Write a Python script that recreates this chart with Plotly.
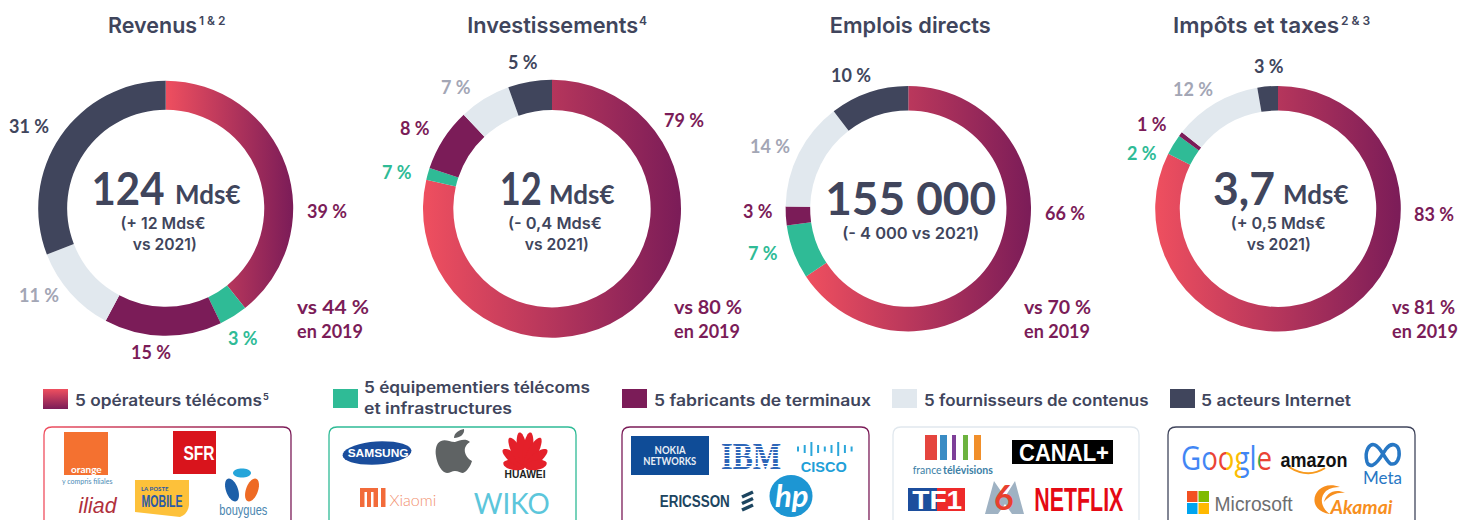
import re, math, json
import plotly.graph_objects as go

W, H = 1471, 520
FONT = "Lato"
UI = "Inter"
SANS = "Liberation Sans"
DARK, PLUM, GREEN, LIGHT, GREY, RED = "#40455C", "#7B1C58", "#2FBB96", "#E1E8EE", "#A3A6B5", "#EF4F5F"

# ---------- data ----------
categories = ["5 opérateurs télécoms", "5 équipementiers télécoms et infrastructures",
              "5 fabricants de terminaux", "5 fournisseurs de contenus", "5 acteurs Internet"]
revenus = [39.3, 3.6, 14.9, 11.3, 30.9]
investissements = [78.6, 1.5, 7.9, 6.5, 5.5]
emplois = [65.7, 7.1, 2.5, 14.3, 10.4]
impots = [82.4, 2.7, 0.6, 11.6, 2.7]
revenus_labels = ["39 %", "3 %", "15 %", "11 %", "31 %"]
investissements_labels = ["79 %", "7 %", "8 %", "7 %", "5 %"]
emplois_labels = ["66 %", "7 %", "3 %", "14 %", "10 %"]
impots_labels = ["83 %", "2 %", "1 %", "12 %", "3 %"]
titles = ["Revenus", "Investissements", "Emplois directs", "Impôts et taxes"]
title_notes = ["1 & 2", "4", "", "2 & 3"]
compare_2019 = ["vs 44 %", "vs 80 %", "vs 70 %", "vs 81 %"]

# ---------- layout (pixels) ----------
geom = [(165.7, 208.3, 127.5, .773), (552, 208.7, 129, .765), (908.3, 208.7, 122.7, .80), (1278, 208.7, 122.8, .80)]
label_pos = [
    [(327, 211), (243, 338), (151, 352), (39, 295), (29, 126)],
    [(684, 120), (397, 172), (415, 128), (456, 87), (523, 62)],
    [(1065, 213), (763, 253), (758, 211), (770, 146), (851, 75)],
    [(1434, 214), (1142, 153), (1152, 124), (1193, 89), (1269, 66)],
]
label_col = [PLUM, GREEN, PLUM, GREY, DARK]
title_x = [152.5, 552.5, 910, 1256]
note_x = [213, 643, 0, 1355]
cmp_x = [297, 674, 1024, 1392]
fills = [RED, GREEN, PLUM, LIGHT, DARK]
# target text widths in px
FIT = {"Revenus": 89, "Investissements": 171, "Emplois directs": 161, "Impôts et taxes": 166,
       "124": 73, "12": 42, "3,7": 62, "155 000": 171, "Google": 91,
       "vs 44 %": 72, "vs 80 %": 68, "vs 70 %": 67, "vs 81 %": 63, "en 2019": 66,
       "(- 4 000 vs 2021)": 137, "(+ 12 Mds€": 85, "vs 2021)": 64, "(- 0,4 Mds€": 94, "(+ 0,5 Mds€": 95,
       "5 opérateurs télécoms": 187, "5 équipementiers télécoms": 226, "et infrastructures": 148,
       "5 fabricants de terminaux": 217, "5 fournisseurs de contenus": 224.5, "5 acteurs Internet": 150,
       "NETFLIX": 89, "SFR": 31, "SAMSUNG": 61, "MOBILE": 41, "iliad": 38, "CANAL+": 90, "TF1": 50, "amazon": 67,
       "Microsoft": 78, "NOKIA": 31, "NETWORKS": 53, "IBM": 60, "CISCO": 46, "ERICSSON": 70, "bouygues": 48,
       "HUAWEI": 41, "france": 29, "télévisions": 50, "Meta": 39, "Akamai": 62, "WIKO": 76, "Xiaomi": 47}

def X(x): return x / W
def Y(y): return 1 - y / H

def pxpath(s):
    out, isx = [], True
    for tok in re.findall(r"[A-Za-z]|-?\d+\.?\d*", s):
        if tok.isalpha():
            out.append(tok); isx = True
        else:
            v = float(tok)
            out.append(f"{X(v):.5f}" if isx else f"{Y(v):.5f}")
            isx = not isx
    return " ".join(out)

shapes, ann = [], []
def T(x, y, text, size, color, anchor="center", family=FONT, weight=700, italic=False):
    ann.append(dict(x=X(x), y=Y(y), xref="paper", yref="paper", text=text, showarrow=False,
                    xanchor=anchor, yanchor="middle", align="left" if anchor == "left" else "center",
                    borderpad=0, borderwidth=0,
                    font=dict(size=size, color=color, family=family, weight=weight,
                              style="italic" if italic else "normal")))
def R(x0, y0, x1, y1, c):
    shapes.append(dict(type="rect", xref="paper", yref="paper", x0=X(x0), x1=X(x1), y0=Y(y0), y1=Y(y1),
                       fillcolor=c, line=dict(width=0)))
def PATH(s, fill=None, stroke=None, w=0):
    shapes.append(dict(type="path", xref="paper", yref="paper", path=pxpath(s),
                       fillcolor=fill if fill else "rgba(0,0,0,0)",
                       line=dict(width=w, color=stroke if stroke else "rgba(0,0,0,0)")))
def ELL(cx, cy, rx, ry, c, rot=0):
    a = math.radians(rot)
    pts = []
    for i in range(36):
        t = 2 * math.pi * i / 36
        x, y = rx * math.cos(t), ry * math.sin(t)
        pts.append((cx + x * math.cos(a) - y * math.sin(a), cy + x * math.sin(a) + y * math.cos(a)))
    PATH("M " + " L ".join(f"{p[0]:.2f} {p[1]:.2f}" for p in pts) + " Z", fill=c)
def RR(x0, y0, x1, y1, r, stroke):
    PATH(f"M {x0+r} {y0} L {x1-r} {y0} Q {x1} {y0} {x1} {y0+r} L {x1} {y1-r} Q {x1} {y1} {x1-r} {y1} "
         f"L {x0+r} {y1} Q {x0} {y1} {x0} {y1-r} L {x0} {y0+r} Q {x0} {y0} {x0+r} {y0} Z", stroke=stroke, w=1.3)

fig = go.Figure()
series = [(revenus, revenus_labels), (investissements, investissements_labels),
          (emplois, emplois_labels), (impots, impots_labels)]
for (vals, labs), (cx, cy, r, hole), title, note, tx, nx, cx2, lp, cmp_ in zip(series, geom, titles, title_notes, title_x, note_x, cmp_x, label_pos, compare_2019):
    fig.add_trace(go.Pie(values=vals, labels=categories, sort=False, direction="clockwise", rotation=0,
                         hole=hole, textinfo="none", hoverinfo="skip", showlegend=False,
                         marker=dict(colors=fills, line=dict(width=0)),
                         domain=dict(x=[X(cx - r), X(cx + r)], y=[Y(cy + r), Y(cy - r)])))
    for lab, (x, y), c in zip(labs, lp, label_col):
        T(x, y, lab, 18, c)
    T(tx, 25, title, 22, DARK, family=UI, weight=600)
    if note:
        T(nx, 20.5, note, 12, DARK, family=UI, weight=600)
    T(cx2, 307, cmp_, 18, PLUM, anchor="left")
    T(cx2, 331, "en 2019", 18, PLUM, anchor="left")

# centre texts
T(128, 187, "124", 46, DARK); T(207, 194, "Mds€", 26, DARK)
T(163, 223, "(+ 12 Mds€", 16, DARK, family=UI, weight=600); T(164, 244, "vs 2021)", 16, DARK, family=UI, weight=600)
T(520, 187, "12", 46, DARK); T(581, 194, "Mds€", 26, DARK)
T(555, 223, "(- 0,4 Mds€", 16, DARK, family=UI, weight=600); T(556, 244, "vs 2021)", 16, DARK, family=UI, weight=600)
T(910, 197, "155 000", 46, DARK); T(910, 233, "(- 4 000 vs 2021)", 16, DARK, family=UI, weight=600)
T(1244, 187, "3,7", 46, DARK); T(1315, 194, "Mds€", 26, DARK)
T(1278, 223, "(+ 0,5 Mds€", 16, DARK, family=UI, weight=600); T(1278, 244, "vs 2021)", 16, DARK, family=UI, weight=600)

# legend
R(43, 389, 68, 409, RED); idx_swatch = len(shapes) - 1
R(333, 389, 358, 408, GREEN); R(622, 389, 647, 408, PLUM); R(892, 389, 917, 408, LIGHT); R(1170, 389, 1195, 408, DARK)
T(74.5, 400, categories[0], 15.5, DARK, "left", family=UI, weight=600)
T(262.5, 396.5, "5", 9, DARK, "left", family=UI, weight=700)
T(364, 387, "5 équipementiers télécoms", 15.5, DARK, "left", family=UI, weight=600)
T(364, 408, "et infrastructures", 15.5, DARK, "left", family=UI, weight=600)
T(654, 400, categories[2], 15.5, DARK, "left", family=UI, weight=600)
T(923.5, 400, categories[3], 15.5, DARK, "left", family=UI, weight=600)
T(1201, 400, categories[4], 15.5, DARK, "left", family=UI, weight=600)

# logo boxes
RR(44, 427, 291, 535, 8, RED); idx_box = len(shapes) - 1
RR(329, 427, 576, 535, 8, GREEN); RR(622, 427, 869, 535, 8, PLUM); RR(893, 427, 1139, 535, 8, LIGHT); RR(1168, 427, 1415, 535, 8, DARK)

# operators
R(64, 432, 108, 475, "#F47130"); T(86, 469, "orange", 10, "#FFFFFF")
T(87, 481, "y compris filiales", 7, "#4A8BB5", weight=400)
R(173, 431, 216, 474, "#D9141C"); T(199, 453, "SFR", 20, "#FFFFFF", family=SANS)
T(98, 505, "iliad", 22, "#B0303C", family=SANS, italic=True, weight=400)
PATH("M 135 480 L 189 480 L 189 505 Q 188 514 180 517 L 135 512 Z", fill="#FDC13A")
T(155, 488, "LA POSTE", 6, "#2B5AA5"); T(162, 501, "MOBILE", 17, "#2B5AA5", family=SANS)
ELL(242, 473, 9, 4.5, "#25A5DA"); ELL(232, 490, 6, 12, "#1D5FA8", -20); ELL(252, 490, 6, 12, "#EE6A24", 20)
T(243, 510, "bouygues", 14, "#4A86B0", family=SANS, weight=400)
# equipment
ELL(377, 453, 34.5, 11.5, "#1A4D9C", -4); T(378, 453, "SAMSUNG", 11, "#FFFFFF", family=SANS)
PATH("M 455 442 C 449 442 446 439 441 441 C 436 443 435 450 436 456 C 437 464 442 473 447 473 C 450 473 452 471 455 471 "
     "C 458 471 461 473 463 473 C 467 472 471 465 472 461 C 466 458 464 452 465 448 C 466 445 468 443 470 442 C 466 438 460 440 455 442 Z", fill="#5F6364")
PATH("M 454 438 C 454 433 459 430 464 429 C 465 434 460 438 454 438 Z", fill="#5F6364")
for ang, ln in [(-80, 22), (-52, 28), (-28, 33), (-9, 35), (9, 35), (28, 33), (52, 28), (80, 22)]:
    a = math.radians(ang)
    ELL(525 + math.sin(a) * ln / 2, 467 - math.cos(a) * ln / 2, 5, ln / 2, "#E4202A", ang)
T(525, 474, "HUAWEI", 10, "#222222", family=SANS)
for x0, y0, x1, y1 in [(360, 488, 378, 492), (360, 488, 364.5, 507), (367, 492, 371, 507), (373.5, 488, 378, 507), (381, 488, 385.5, 507)]:
    R(x0, y0, x1, y1, "#F26B3A")
T(413, 500, "Xiaomi", 15, "#F2916F", weight=300)
T(511, 502, "WIKO", 29, "#5CC6DB", weight=400)
# devices
R(631, 436, 709, 475, "#0F4C97"); T(670, 450, "NOKIA", 10.5, "#E8EEF5"); T(670, 460.5, "NETWORKS", 10.5, "#E8EEF5")
T(751, 456, "IBM", 38, "#2E66B8", family="Liberation Serif")
for i, h in enumerate([5, 8, 14, 8, 5, 8, 14, 8, 5]):
    x = 798 + i * 6.7
    PATH(f"M {x} {449 - h/2} L {x} {449 + h/2}", stroke="#2BA6DA", w=2)
T(824, 466, "CISCO", 15, "#1FA0D8", family=SANS)
T(695, 501, "ERICSSON", 16, "#1C4560", family=SANS)
for dy in (0, 6.5, 13):
    PATH(f"M 742 {497 + dy} L 753 {492 + dy}", stroke="#1C4560", w=3.5)
ELL(791, 496, 21.5, 21, "#1D96D3"); T(791, 495, "hp", 31, "#FFFFFF", italic=True)
# content
for x0, x1, c in [(925, 937, "#E5453E"), (940, 947, "#3A8CC4"), (952, 956, "#7E3F98"), (963, 968, "#6DB33F"), (974, 981, "#F18F2A")]:
    R(x0, 435, x1, 460, c)
T(927.5, 469, "france", 11, "#3D7FA6", weight=400); T(968, 469, "télévisions", 11, "#3D7FA6")
R(1012, 440, 1113, 464, "#000000"); T(1064, 452, "CANAL+", 24, "#FFFFFF", family=SANS)
R(908, 488, 937, 511, "#1C4E9D"); R(937, 488, 965, 511, "#EE2A2A"); T(937, 499.5, "TF1", 25, "#FFFFFF", family=SANS)
PATH("M 985 514 L 994 481 L 1005 497 L 1015 481 L 1024 514 L 1012 514 L 1005 504 L 998 514 Z", fill="#9FB2C3")
T(1004, 496, "6", 34, "#E8402F")
T(1078.5, 498.5, "NETFLIX", 34, "#E50914", family=SANS)
# internet
T(1226.5, 457, "Google", 32, "#4285F4", family="Open Sans", weight=500)
T(1313.5, 459, "amazon", 21, "#111111", family=SANS)
PATH("M 1289 467 Q 1308 479 1325 468", stroke="#F79A1E", w=2)
PATH("M 1367 462 C 1364 450 1370 443 1375 445 C 1381 447 1386 462 1391 464 C 1397 465 1400 458 1399 451 "
     "C 1398 444 1391 442 1386 449 C 1382 455 1378 463 1373 465 C 1370 466 1368 465 1367 462 Z", stroke="#2777C4", w=3.5)
T(1382.5, 477, "Meta", 17, "#2777C4", weight=400)
R(1187, 491, 1197.5, 502, "#F25022"); R(1198.5, 491, 1209, 502, "#7FBA00"); R(1187, 503, 1197.5, 514, "#00A4EF"); R(1198.5, 503, 1209, 514, "#FFB900")
T(1253, 503, "Microsoft", 21, "#6D6E70", family=SANS, weight=400)
PATH("M 1340 487 C 1322 480 1310 495 1316 506 C 1318 510 1323 513 1330 514 C 1321 508 1319 498 1326 491 C 1330 488 1336 487 1340 487 Z", fill="#F78F1E")
PATH("M 1345 493 C 1335 488 1326 493 1324 502 C 1330 495 1338 492 1345 493 Z", fill="#F78F1E")
T(1361, 506, "Akamai", 19, "#F78F1E", italic=True)

fig.update_layout(width=W, height=H, margin=dict(l=0, r=0, t=0, b=0, pad=0), paper_bgcolor="#FFFFFF", plot_bgcolor="#FFFFFF",
                  shapes=shapes, annotations=ann, showlegend=False)

post = """
document.documentElement.style.overflow='hidden';
document.body.style.margin='0';document.body.style.overflow='hidden';
var gd=document.getElementById('{plot_id}');
var NS='http://www.w3.org/2000/svg';
var defs=gd.querySelector('svg.main-svg defs');
function grad(id,x2,y2,stops,repeat){var g=document.createElementNS(NS,'linearGradient');g.setAttribute('id',id);
 g.setAttribute('x1','0');g.setAttribute('y1','0');g.setAttribute('x2',x2);g.setAttribute('y2',y2);
 if(repeat)g.setAttribute('spreadMethod','repeat');
 stops.forEach(function(s){var e=document.createElementNS(NS,'stop');e.setAttribute('offset',s[0]);e.setAttribute('stop-color',s[1]);g.appendChild(e);});
 defs.appendChild(g);}
var RP=[[0,'IDXRED'],[1,'IDXPLUM']];
grad('gh','1','0',RP);grad('gv','0','1',RP);
grad('ibm','0','0.07',[[0,'#2E66B8'],[0.68,'#2E66B8'],[0.68,'#FFFFFF'],[1,'#FFFFFF']],true);
function hard(a){var o=[];a.forEach(function(s){o.push([s[0],s[2]]);o.push([s[1],s[2]]);});return o;}
grad('goog','1','0',hard([[0,.32,'#4285F4'],[.32,.49,'#EA4335'],[.49,.66,'#FBBC05'],[.66,.82,'#4285F4'],[.82,.87,'#34A853'],[.87,1,'#EA4335']]));
gd.querySelectorAll('.pielayer .trace').forEach(function(t){var p=t.querySelector('.slice path.surface');if(p)p.style.fill='url(#gh)';});
var sw=gd.querySelector('.shapelayer path[data-index="IDXSW"]');if(sw)sw.style.fill='url(#gv)';
var bx=gd.querySelector('.shapelayer path[data-index="IDXBOX"]');if(bx)bx.style.stroke='url(#gh)';
var FIT=IDXFIT;
gd.querySelectorAll('.annotation-text').forEach(function(t){var s=t.textContent;
 if(s==='IBM')t.style.fill='url(#ibm)';
 if(s==='Google')t.style.fill='url(#goog)';
 if(FIT[s]){t.setAttribute('textLength',FIT[s]);t.setAttribute('lengthAdjust','spacingAndGlyphs');}});
""".replace("IDXRED", RED).replace("IDXPLUM", PLUM).replace("IDXSW", str(idx_swatch)).replace("IDXBOX", str(idx_box)).replace("IDXFIT", json.dumps(FIT))

fig.write_html("out.html", post_script=post, config=dict(displayModeBar=False, responsive=False))
